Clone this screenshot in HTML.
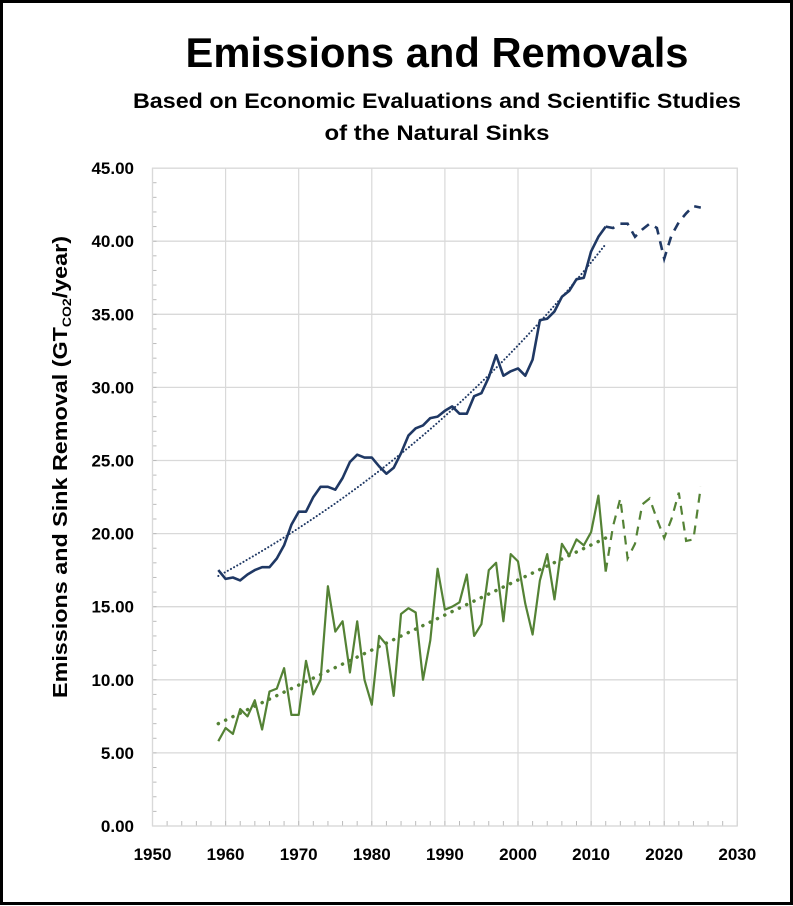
<!DOCTYPE html>
<html><head><meta charset="utf-8"><style>
html,body{margin:0;padding:0;background:#fff;}
svg{display:block;}
text{font-family:"Liberation Sans",sans-serif;font-weight:bold;fill:#000;}
</style></head><body>
<svg id="s" width="793" height="906" viewBox="0 0 793 906" xmlns="http://www.w3.org/2000/svg">
<rect x="1.5" y="1.5" width="790" height="902" fill="#fff" stroke="#000" stroke-width="3"/>
<text x="437" y="67" font-size="42" text-anchor="middle" textLength="503" lengthAdjust="spacingAndGlyphs">Emissions and Removals</text>
<text x="437" y="108" font-size="21" text-anchor="middle" textLength="608" lengthAdjust="spacingAndGlyphs">Based on Economic Evaluations and Scientific Studies</text>
<text x="437" y="140" font-size="21" text-anchor="middle" textLength="225" lengthAdjust="spacingAndGlyphs">of the Natural Sinks</text>
<text transform="translate(67,467) rotate(-90)" font-size="20" text-anchor="middle" textLength="462" lengthAdjust="spacingAndGlyphs">Emissions and Sink Removal (GT<tspan font-size="12" dy="4">CO2</tspan><tspan dy="-4">/year)</tspan></text>
<g id="grid"></g>
<g id="data"></g>
</svg>
<script>
const X=y=>152.5+(y-1950)*7.31, Y=v=>826-v*14.62;
const ns="http://www.w3.org/2000/svg";
const g=document.getElementById('grid'), d=document.getElementById('data');
function el(p,tag,a,t){const e=document.createElementNS(ns,tag);for(const k in a)e.setAttribute(k,a[k]);if(t)e.textContent=t;p.appendChild(e);return e;}
for(let i=0;i<=9;i++){const y=Y(i*5);
 el(g,'line',{x1:X(1950),x2:X(2030),y1:y,y2:y,stroke:'#d9d9d9','stroke-width':1.3});
 el(g,'text',{x:134,y:y+6,'font-size':17,'text-anchor':'end'},(i*5).toFixed(2));}
for(let v=0;v<45;v++){el(g,'line',{x1:X(1950),x2:X(1950)+4,y1:Y(v),y2:Y(v),stroke:'#bbb'});}
for(let yr=1950;yr<=2030;yr+=10){const x=X(yr);
 el(g,'line',{x1:x,x2:x,y1:Y(45),y2:Y(0),stroke:'#d9d9d9','stroke-width':1.2});
 el(g,'text',{x:x,y:860,'font-size':17,'text-anchor':'middle'},String(yr));}
for(let yr=1950;yr<=2030;yr+=2){el(g,'line',{x1:X(yr),x2:X(yr),y1:Y(0),y2:Y(0)-5,stroke:'#bbb'});}
el(g,'line',{x1:X(1950),x2:X(2030),y1:Y(0),y2:Y(0),stroke:'#bbb'});
const blue=[17.5,16.9,17.0,16.8,17.2,17.5,17.7,17.7,18.3,19.2,20.6,21.5,21.5,22.5,23.2,23.2,23.0,23.8,24.9,25.4,25.2,25.2,24.6,24.1,24.5,25.5,26.7,27.2,27.4,27.9,28.0,28.4,28.7,28.2,28.2,29.4,29.6,30.7,32.2,30.8,31.1,31.3,30.8,31.9,34.6,34.7,35.2,36.2,36.6,37.4,37.5,39.3,40.3,41.0];
const blueF=[41.0,40.9,41.2,41.2,40.3,40.8,41.2,40.9,38.8,40.4,41.3,41.9,42.4,42.3];
const green=[5.8,6.7,6.3,8.0,7.5,8.6,6.6,9.2,9.4,10.8,7.6,7.6,11.3,9.0,10.0,16.4,13.3,14.0,10.5,14.0,10.0,8.3,13.0,12.4,8.9,14.5,14.9,14.6,10.0,12.7,17.6,14.8,15.0,15.3,17.2,13.0,13.8,17.5,18.0,14.0,18.6,18.1,15.2,13.1,16.8,18.6,15.5,19.3,18.5,19.6,19.2,20.1,22.6,17.4];
const greenF=[17.4,20.5,22.4,18.3,19.3,22.0,22.4,21.0,19.7,21.0,22.8,19.5,19.6,23.2];
const pts=(a,s)=>a.map((v,i)=>X(s+i).toFixed(1)+','+Y(v).toFixed(1)).join(' ');
let bt=[];for(let y=1959;y<=2012;y++)bt.push(X(y).toFixed(1)+','+Y(17.1*Math.exp(0.01594*(y-1959))).toFixed(1));
el(d,'polyline',{points:bt.join(' '),fill:'none',stroke:'#1f3864','stroke-width':2,'stroke-dasharray':'0.1 3.5','stroke-linecap':'round'});
el(d,'line',{x1:X(1959),y1:Y(7.0),x2:X(2012),y2:Y(19.7),stroke:'#548235','stroke-width':3.5,'stroke-dasharray':'0.1 8','stroke-linecap':'round'});
el(d,'polyline',{points:pts(green,1959),fill:'none',stroke:'#548235','stroke-width':2.2,'stroke-linejoin':'round'});
el(d,'polyline',{points:pts(greenF,2012),fill:'none',stroke:'#548235','stroke-width':2.2,'stroke-dasharray':'9 7'});
el(d,'polyline',{points:pts(blue,1959),fill:'none',stroke:'#1f3864','stroke-width':2.6,'stroke-linejoin':'round'});
el(d,'polyline',{points:pts(blueF,2012),fill:'none',stroke:'#1f3864','stroke-width':2.6,'stroke-dasharray':'9 7'});
el(g,'rect',{x:X(1950),y:Y(45),width:X(2030)-X(1950),height:Y(0)-Y(45),fill:'none',stroke:'#d9d9d9','stroke-width':1.2});
</script>
</body></html>
